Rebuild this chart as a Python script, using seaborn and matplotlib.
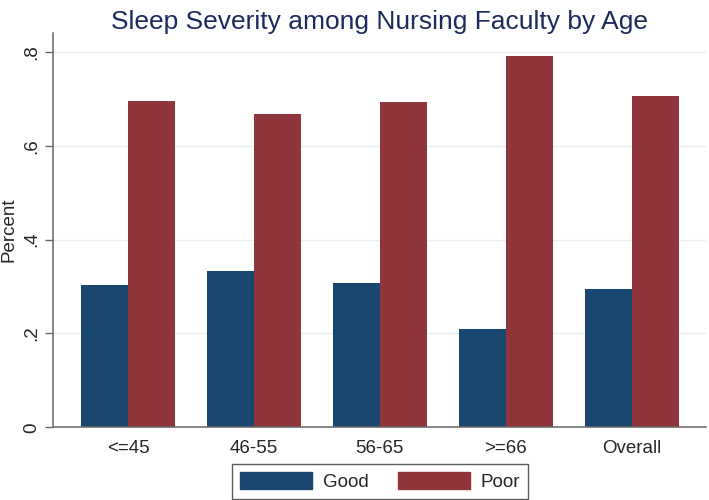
import pandas as pd
import matplotlib
matplotlib.use("Agg")
import matplotlib.pyplot as plt
import seaborn as sns

age_groups = ["<=45", "46-55", "56-65", ">=66", "Overall"]
good_pct = [0.304, 0.333, 0.308, 0.209, 0.294]
poor_pct = [0.696, 0.667, 0.692, 0.791, 0.706]
sleep_levels = ["Good", "Poor"]
y_ticks = [0, 0.2, 0.4, 0.6, 0.8]
y_tick_labels = ["0", ".2", ".4", ".6", ".8"]

colors = {"Good": "#1a476f", "Poor": "#90353b"}

df = pd.DataFrame({
    "age": age_groups * 2,
    "sleep": ["Good"] * len(age_groups) + ["Poor"] * len(age_groups),
    "pct": good_pct + poor_pct,
})

sns.set_theme(style="white")
plt.rcParams["font.family"] = ["Liberation Sans", "DejaVu Sans"]

fig = plt.figure(figsize=(7.09, 5.0), dpi=100)
ax = fig.add_axes([0.0748, 0.1454, 0.9210, 0.7886])

sns.barplot(
    data=df,
    x="age",
    y="pct",
    hue="sleep",
    hue_order=sleep_levels,
    order=age_groups,
    palette=colors,
    saturation=1,
    width=0.746,
    linewidth=0,
    legend=False,
    ax=ax,
)

ax.set_xlim(-0.595, 4.59)
ax.set_ylim(0, 0.84)
ax.set_yticks(y_ticks)
ax.set_yticklabels(y_tick_labels, rotation=90, va="center", fontsize=13.5)
ax.tick_params(axis="y", length=6, width=1, color="#666666", pad=3, left=True)
ax.tick_params(axis="x", length=0, pad=9.5, labelsize=13.5)

ax.yaxis.grid(True, color="#e8f0f2", linewidth=1)
ax.set_axisbelow(True)

for side in ["top", "right"]:
    ax.spines[side].set_visible(False)
for side in ["left", "bottom"]:
    ax.spines[side].set_color("#666666")
    ax.spines[side].set_linewidth(1.1)

ax.set_xlabel("")
ax.set_ylabel("Percent", fontsize=13.5, labelpad=4)
ax.set_title(
    "Sleep Severity among Nursing Faculty by Age",
    fontsize=19,
    color="#1c2b5c",
    pad=3,
)

# legend sits centred under the plot area, not the whole figure
handles = [plt.Rectangle((0, 0), 1, 1, color=colors[s]) for s in sleep_levels]
leg = fig.legend(
    handles,
    sleep_levels,
    loc="lower center",
    bbox_to_anchor=(0.536, 0.002),
    ncol=2,
    fontsize=13.5,
    frameon=True,
    fancybox=False,
    handlelength=3.84,
    handleheight=1.07,
    handletextpad=0.59,
    columnspacing=1.55,
    borderpad=0.43,
    borderaxespad=0,
)
leg.get_frame().set_edgecolor("#333333")
leg.get_frame().set_linewidth(1)

fig.savefig("out.png", dpi=100)
